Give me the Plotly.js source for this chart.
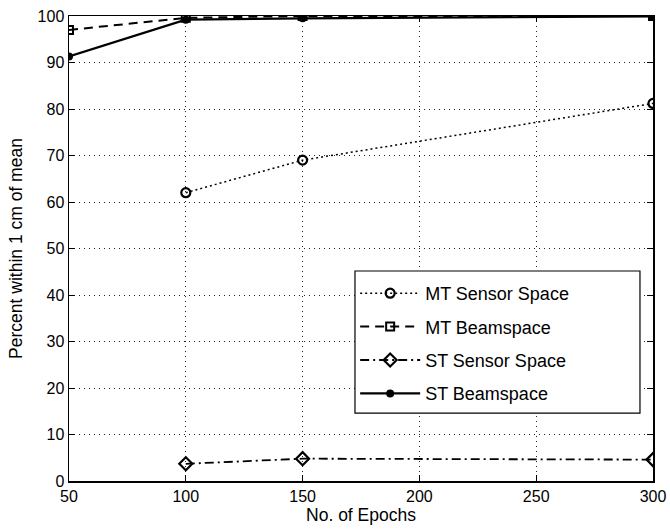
<!DOCTYPE html>
<html><head><meta charset="utf-8">
<script src="https://cdn.plot.ly/plotly-3.0.1.min.js"></script>
<style>body{margin:0;background:#fff}#c{width:670px;height:529px}</style>
</head><body><div id="c"></div>
<script>
const epochsMTSensor = [100, 150, 300];
const mtSensor = [62, 69, 81.2];
const epochsMTBeam = [50, 100, 150, 300];
const mtBeam = [97, 99.6, 100, 100];
const epochsSTSensor = [100, 150, 300];
const stSensor = [3.7, 4.8, 4.6];
const epochsSTBeam = [50, 100, 150, 300];
const stBeam = [91.3, 99.2, 99.5, 99.9];
const xTicks = [50, 100, 150, 200, 250, 300];
const yTicks = [0, 10, 20, 30, 40, 50, 60, 70, 80, 90, 100];

const traces = [
 {x: epochsMTSensor, y: mtSensor, name: 'MT Sensor Space', legendgroup:'a', mode:'lines+markers',
  line:{color:'#000', dash:'2px,3px', width:1.5}, marker:{symbol:'circle-open', size:9, color:'#000', line:{width:2.2}}},
 {x: epochsMTBeam, y: mtBeam, name: 'MT Beamspace', legendgroup:'b', mode:'lines+markers',
  line:{color:'#000', dash:'9px,6px', width:2}, marker:{symbol:'square-open', size:8, color:'#000', line:{width:2}}},
 {x: epochsSTSensor, y: stSensor, name: 'ST Sensor Space', legendgroup:'c', mode:'lines+markers',
  line:{color:'#000', dash:'9px,4px,2px,4px', width:1.8}, marker:{symbol:'diamond-open', size:10, color:'#000', line:{width:2.2}}},
 {x: epochsSTBeam, y: stBeam, name: 'ST Beamspace', legendgroup:'d', mode:'lines+markers',
  line:{color:'#000', dash:'solid', width:2.2}, marker:{symbol:'circle', size:8, color:'#000'}}
];

const tickFont = {family:'Liberation Sans, Arial, sans-serif', size:16, color:'#000'};
const titleFont = {family:'Liberation Sans, Arial, sans-serif', size:17.5, color:'#000'};
const layout = {
 width:670, height:529,
 margin:{l:69, r:17, t:16, b:48},
 paper_bgcolor:'#fff', plot_bgcolor:'#fff',
 font: tickFont,
 showlegend:true,
 legend:{x:0.49, y:0.443, xanchor:'left', yanchor:'top', bgcolor:'rgba(0,0,0,0)', borderwidth:0,
   itemwidth:60,
   font:{family:'Liberation Sans, Arial, sans-serif', size:18, color:'#000'}, traceorder:'grouped', tracegroupgap:7},
 shapes:[{type:'rect', xref:'paper', yref:'paper', x0:0.4897, x1:0.9777, y0:0.146, y1:0.4516,
   fillcolor:'#fff', line:{color:'#000', width:1.2}, layer:'above'}],
 xaxis:{range:[50,300], tickvals:xTicks, ticktext:xTicks.map(String), showgrid:true, gridcolor:'#222', griddash:'1px,4px', gridwidth:1,
   zeroline:false, showline:true, linecolor:'#000', linewidth:1.5, mirror:'allticks', ticks:'inside', ticklen:6, tickcolor:'#000',
   tickfont:tickFont, title:{text:'No. of Epochs', font:titleFont, standoff:4}},
 yaxis:{range:[0,100], tickvals:yTicks, ticktext:yTicks.map(String), showgrid:true, gridcolor:'#222', griddash:'1px,4px', gridwidth:1,
   zeroline:false, showline:true, linecolor:'#000', linewidth:1.5, mirror:'allticks', ticks:'inside', ticklen:6, tickcolor:'#000',
   tickfont:tickFont, title:{text:'Percent within 1 cm of mean', font:titleFont, standoff:10}}
};
Plotly.newPlot('c', traces, layout, {displayModeBar:false, staticPlot:true});
</script></body></html>
